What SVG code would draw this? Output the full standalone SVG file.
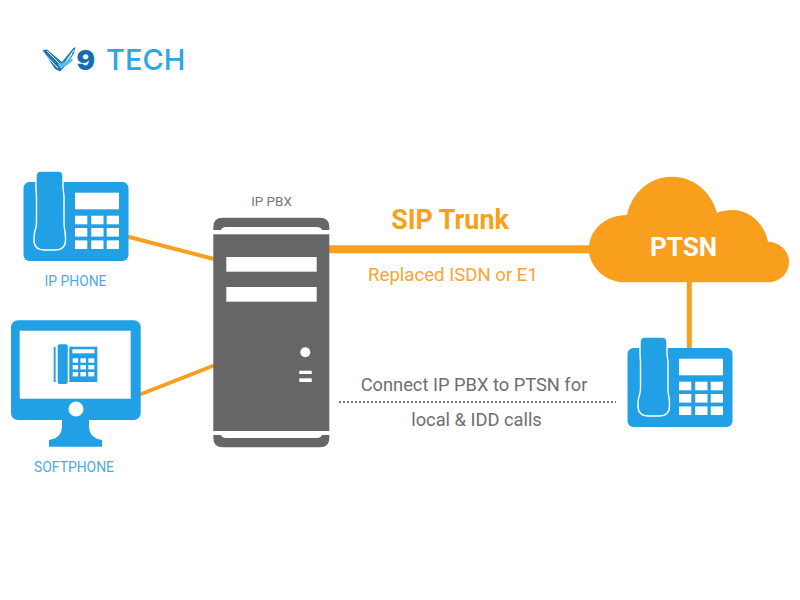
<svg xmlns="http://www.w3.org/2000/svg" width="800" height="600" viewBox="0 0 800 600">
<style>
.blue{fill:#21A0E6}
.white{fill:#fff}
.gray{fill:#666}
.org{stroke:#F99F1E;fill:none}
text{font-family:Roboto,"Liberation Sans",sans-serif}
.lab{fill:#49ACE9;font-size:13.9px;text-anchor:middle}
.note{fill:#6E6E6E;font-size:18.300px;text-anchor:middle}
</style>
<defs>
<g id="deskphone">
<rect class="blue" x="23.500" y="182" width="105" height="79" rx="6"/>
<path class="blue" stroke="#fff" stroke-width="1.400" d="M41 171H58Q63 171 63 176V186Q63 189 63.500 192Q64 195 64 198V222Q64 226 64.500 229Q65.500 233 65.500 238V240Q65.500 250 55 250H44.500Q34 250 34 240V238Q34 233 35.500 229Q36.500 226 36.500 222V198Q36.500 195 36.200 192Q36 189 36 186V176Q36 171 41 171Z"/>
<rect class="white" x="75" y="192.700" width="44" height="16.600"/>
<g class="white">
<rect x="75" y="215.700" width="12.300" height="8.600"/><rect x="91.200" y="215.700" width="12.300" height="8.600"/><rect x="106.700" y="215.700" width="12.300" height="8.600"/>
<rect x="75" y="228" width="12.300" height="8.600"/><rect x="91.200" y="228" width="12.300" height="8.600"/><rect x="106.700" y="228" width="12.300" height="8.600"/>
<rect x="75" y="240.400" width="12.300" height="8.600"/><rect x="91.200" y="240.400" width="12.300" height="8.600"/><rect x="106.700" y="240.400" width="12.300" height="8.600"/>
</g>
</g>
</defs>

<g id="connectors">
<line class="org" stroke-width="4" x1="128" y1="236.700" x2="214" y2="259"/>
<line class="org" stroke-width="4" x1="140" y1="394.500" x2="214" y2="365.500"/>
<line class="org" stroke-width="8" x1="329" y1="249.300" x2="595" y2="249.300"/>
<line class="org" stroke-width="5" x1="689.300" y1="280" x2="689.300" y2="349"/>
<line stroke="#777" stroke-width="2" stroke-dasharray="2 2" x1="339" y1="402" x2="616" y2="402"/>
</g>

<g id="logo">
<path fill="#1C79BE" d="M42.500 50L47 49.500L62 62L73 48.500L75.500 47L74 53L68 63L60 71.500L55 69Z"/>
<path fill="none" stroke="#fff" stroke-width="1" d="M44 53.500L58 68M47 51L61 65M61 68L72 54M64 64L74 50"/>
<path fill="#5DBDEE" d="M58 64Q66 63 70 57L73 60Q68 66 60 68Z"/>
<text x="76.500" y="70" fill="#136DB4" font-size="27.500" font-weight="900" style="font-family:Inter,Roboto,sans-serif">9</text>
<text x="106" y="70" fill="#2BA6E6" font-size="29" font-weight="500" style="font-family:Inter,Roboto,sans-serif">TECH</text>
</g>

<g id="ip-phone">
<use href="#deskphone"/>
<text class="lab" x="75.500" y="285.700">IP PHONE</text>
</g>

<g id="softphone">
<rect class="blue" x="11" y="320.300" width="129.700" height="99.700" rx="7"/>
<rect class="white" x="19.700" y="330.700" width="111" height="68"/>
<circle class="white" cx="76" cy="409" r="7.500"/>
<path class="blue" d="M62 419H89V426Q89 438 102 440V446.700H49V440Q62 438 62 426Z"/>
<rect class="blue" x="53.700" y="347" width="1.900" height="35"/>
<rect class="blue" x="57.700" y="344.300" width="10" height="39.700" rx="2"/>
<rect class="blue" x="69.300" y="346.700" width="28" height="35.300"/>
<rect class="white" x="72.300" y="349.300" width="22.200" height="4"/>
<g class="white">
<rect x="72.700" y="358.300" width="5.400" height="4.400"/><rect x="80.400" y="358.300" width="5.600" height="4.400"/><rect x="88.300" y="358.300" width="6" height="4.400"/>
<rect x="72.700" y="365" width="5.400" height="4.400"/><rect x="80.400" y="365" width="5.600" height="4.400"/><rect x="88.300" y="365" width="6" height="4.400"/>
<rect x="72.700" y="372" width="5.400" height="4.400"/><rect x="80.400" y="372" width="5.600" height="4.400"/><rect x="88.300" y="372" width="6" height="4.400"/>
</g>
<text class="lab" x="74" y="472">SOFTPHONE</text>
</g>

<g id="ip-pbx">
<text x="271.500" y="205.700" fill="#777" font-size="13.400" text-anchor="middle">IP PBX</text>
<path class="gray" d="M223 217.700H320Q329.300 217.700 329.300 227V230H322Q321 227 317 227H226Q222 227 221 230H213.300V227Q213.300 217.700 223 217.700Z"/>
<rect class="gray" x="213.300" y="234.300" width="116" height="196.700"/>
<rect class="white" x="226.300" y="257" width="90.400" height="14.700"/>
<rect class="white" x="226.300" y="287" width="90.400" height="14.700"/>
<circle class="white" cx="305.300" cy="352.300" r="5"/>
<rect class="white" x="299.300" y="370.700" width="12.400" height="3.300"/>
<rect class="white" x="299.300" y="378.300" width="12.400" height="3.700"/>
<path class="gray" d="M213.300 435H221Q222 438 226 438H317Q321 438 322 435H329.300V438Q329.300 447.300 320 447.300H223Q213.300 447.300 213.300 438Z"/>
</g>

<g id="ptsn">
<path fill="#F99F1E" d="M625 282.300C605 282.300 589 267 589 249C589 230 605 215 627 215C632 192 650 176.700 672 176.700C694 176.700 711 192 717 212.700C722 211 727 210 732 210C750 210 764 223 768 241.700C780 242 789 251 789 262C789 273 780 282.300 768 282.300Z"/>
<text x="683.500" y="256" fill="#fff" font-size="26" font-weight="700" text-anchor="middle">PTSN</text>
</g>

<g id="desk-phone-2">
<use href="#deskphone" x="604" y="166"/>
</g>

<g id="labels">
<text x="450" y="229" fill="#F99F1E" font-size="26.800" font-weight="700" text-anchor="middle">SIP Trunk</text>
<text x="453" y="281" fill="#F9A435" font-size="18.600" text-anchor="middle">Replaced ISDN or E1</text>
<text class="note" x="474" y="390.500">Connect IP PBX to PTSN for</text>
<text class="note" x="476.500" y="425.500">local &amp; IDD calls</text>
</g>
</svg>
